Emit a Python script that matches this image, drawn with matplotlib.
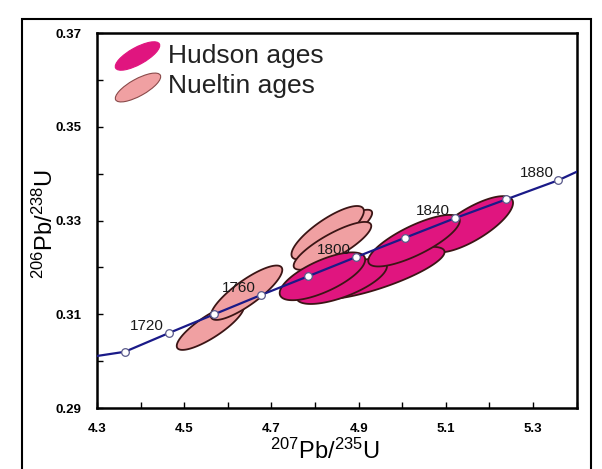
import numpy as np
import matplotlib
matplotlib.use("Agg")
import matplotlib.pyplot as plt
from matplotlib.patches import Polygon, Ellipse, Rectangle

plt.rcParams['font.family'] = ['Liberation Sans', 'DejaVu Sans']
plt.rcParams['mathtext.fontset'] = 'custom'
plt.rcParams['mathtext.rm'] = 'Liberation Sans'
plt.rcParams['mathtext.it'] = 'Liberation Sans'

# Concordia (ages in Ma) and its 20 Ma tick points
conc_age = [1700, 1720, 1740, 1760, 1780, 1800, 1820, 1840, 1860, 1880]
conc_x = [4.364, 4.465, 4.569, 4.676, 4.784, 4.894, 5.006, 5.121, 5.238, 5.358]
conc_y = [0.3020, 0.3060, 0.3100, 0.3141, 0.3181, 0.3222, 0.3263, 0.3305, 0.3345, 0.3386]
conc_end_x = [4.30, 5.40]
conc_end_y = [0.3011, 0.3404]
labelled_ages = [1720, 1760, 1800, 1840, 1880]

# Hudson ages: 207Pb/235U, 206Pb/238U, errors and error correlation
hudson_x = [5.159, 4.947, 4.861, 4.817, 5.027]
hudson_y = [0.3292, 0.3188, 0.3170, 0.3181, 0.3257]
hudson_sx = [0.095, 0.150, 0.104, 0.098, 0.105]
hudson_sy = [0.0060, 0.0056, 0.0048, 0.0051, 0.0055]
hudson_rho = [0.76, 0.80, 0.68, 0.70, 0.78]

# Nueltin ages
nueltin_x = [4.560, 4.643, 4.854, 4.829, 4.840]
nueltin_y = [0.3074, 0.3146, 0.3273, 0.3274, 0.3246]
nueltin_sx = [0.077, 0.082, 0.077, 0.083, 0.089]
nueltin_sy = [0.0050, 0.0058, 0.0050, 0.0057, 0.0051]
nueltin_rho = [0.83, 0.84, 0.86, 0.81, 0.83]

hudson_col = '#e0157f'
nueltin_col = '#f0a0a2'
edge_col = '#3b1515'
line_col = '#1a1a88'


def error_ellipse(x, y, sx, sy, rho, color):
    cov = np.array([[sx * sx, rho * sx * sy], [rho * sx * sy, sy * sy]])
    L = np.linalg.cholesky(cov)
    t = np.linspace(0, 2 * np.pi, 120)
    pts = np.array([x, y])[:, None] + L @ np.vstack([np.cos(t), np.sin(t)])
    return Polygon(pts.T, closed=True, facecolor=color, edgecolor=edge_col, linewidth=1.3)


fig = plt.figure(figsize=(6.02, 4.69), dpi=100)
ax = fig.add_axes([0.161, 0.130, 0.797, 0.7996])

# outer frame
fig.patches.append(Rectangle((22 / 602, -0.02), 569 / 602, 0.979, transform=fig.transFigure,
                             fill=False, edgecolor='black', linewidth=1.5))

for i in range(len(nueltin_x)):
    ax.add_patch(error_ellipse(nueltin_x[i], nueltin_y[i], nueltin_sx[i], nueltin_sy[i],
                               nueltin_rho[i], nueltin_col))
for i in range(len(hudson_x)):
    ax.add_patch(error_ellipse(hudson_x[i], hudson_y[i], hudson_sx[i], hudson_sy[i],
                               hudson_rho[i], hudson_col))

# concordia
ax.plot([conc_end_x[0]] + conc_x + [conc_end_x[1]], [conc_end_y[0]] + conc_y + [conc_end_y[1]],
        color=line_col, linewidth=1.6, zorder=5)
ax.plot(conc_x, conc_y, 'o', markersize=5.5, markerfacecolor='white',
        markeredgecolor='#5a5a8a', markeredgewidth=0.9, zorder=6)
for age, x, y in zip(conc_age, conc_x, conc_y):
    if age in labelled_ages:
        ax.text(x - 0.050, y + 0.0016, str(age), fontsize=11, color='#1a1a1a',
                ha='center', va='center', zorder=7)

ax.set_xlim(4.3, 5.4)
ax.set_ylim(0.29, 0.37)
ax.set_xticks(np.arange(4.3, 5.31, 0.2))
ax.set_xticks(np.arange(4.3, 5.41, 0.1), minor=True)
ax.set_yticks(np.arange(0.29, 0.371, 0.02))
ax.set_yticks(np.arange(0.29, 0.371, 0.01), minor=True)
ax.set_xticklabels(['4.3', '4.5', '4.7', '4.9', '5.1', '5.3'], fontweight='bold', fontsize=9.5)
ax.set_yticklabels(['0.29', '0.31', '0.33', '0.35', '0.37'], fontweight='bold', fontsize=9.5)
ax.tick_params(which='both', direction='in', length=4, width=1, pad=11)
for s in ax.spines.values():
    s.set_linewidth(1.8)

ax.set_xlabel(r'$^{207}$Pb/$^{235}$U', fontsize=17)
ax.xaxis.set_label_coords(0.475, -0.082)
ax.set_ylabel(r'$^{206}$Pb/$^{238}$U', fontsize=17)
ax.yaxis.set_label_coords(-0.082, 0.49)

# legend
fig.patches.append(Ellipse((1.375, 4.13), 0.50, 0.17, angle=29, transform=fig.dpi_scale_trans,
                           facecolor=hudson_col, edgecolor=hudson_col, linewidth=0.8))
fig.patches.append(Ellipse((1.38, 3.815), 0.51, 0.17, angle=29, transform=fig.dpi_scale_trans,
                           facecolor=nueltin_col, edgecolor='#8a4a4a', linewidth=0.8))
fig.text(168 / 602, 1 - 56 / 469, 'Hudson ages', fontsize=19, va='center', color='#222222')
fig.text(168 / 602, 1 - 86 / 469, 'Nueltin ages', fontsize=19, va='center', color='#222222')

fig.savefig('out.png', dpi=100)
